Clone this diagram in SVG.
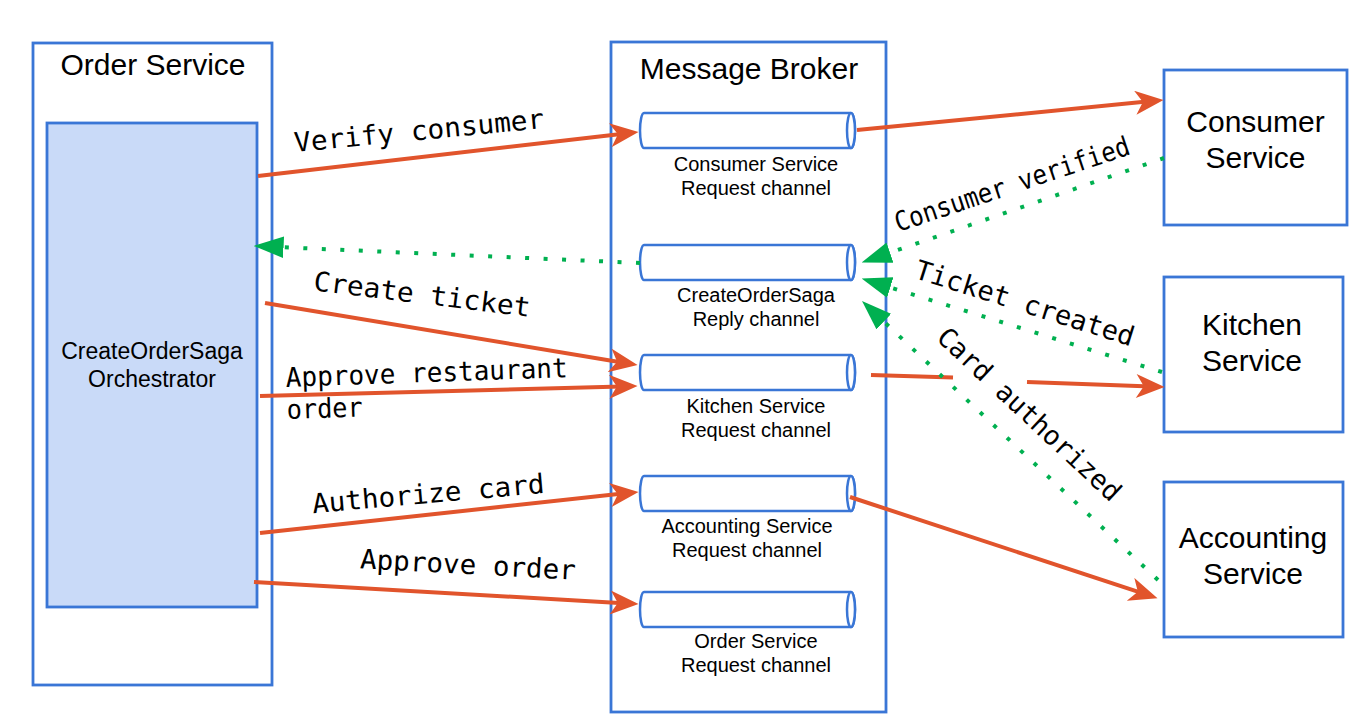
<svg xmlns="http://www.w3.org/2000/svg" width="1365" height="723" viewBox="0 0 1365 723">
<style>
.box{fill:#ffffff;stroke:#3a76d6;stroke-width:2.8}
.inner{fill:#c9daf8;stroke:#3a76d6;stroke-width:2.8}
.cyl{fill:#ffffff;stroke:#3a76d6;stroke-width:2.5}
.title{font-family:"Liberation Sans",Arial,sans-serif;font-size:30px;fill:#000;text-anchor:middle}
.ch{font-family:"Liberation Sans",Arial,sans-serif;font-size:20px;fill:#000;text-anchor:middle}
.orch{font-family:"Liberation Sans",Arial,sans-serif;font-size:23px;fill:#000;text-anchor:middle}
.lbl{font-family:"DejaVu Sans Mono","Liberation Mono",monospace;font-size:27px;fill:#000;text-anchor:middle}
.req{fill:none;stroke:#e1542c;stroke-width:4}
.rep{fill:none;stroke:#00b050;stroke-width:4;stroke-dasharray:4 14.5}
</style>
<defs>
<marker id="ra" markerUnits="userSpaceOnUse" markerWidth="30" markerHeight="24" viewBox="0 0 26 22" refX="20" refY="11" orient="auto">
<path d="M0,0 L26,11 L0,22 L7,11 Z" fill="#e1542c"/>
</marker>
<marker id="ga" markerUnits="userSpaceOnUse" markerWidth="30" markerHeight="22" viewBox="0 0 28 20" refX="8" refY="10" orient="auto">
<path d="M0,0 L28,10 L0,20 Z" fill="#00b050"/>
</marker>
</defs>

<g id="order-service">
<rect class="box" x="33" y="43" width="239" height="642"/>
<text class="title" x="153" y="75">Order Service</text>
</g>
<g id="orchestrator">
<rect class="inner" x="47" y="123" width="210" height="484"/>
<text class="orch" x="152" y="359">CreateOrderSaga</text>
<text class="orch" x="152" y="387">Orchestrator</text>
</g>

<g id="message-broker">
<rect class="box" x="611" y="42" width="275" height="670"/>
<text class="title" x="749" y="79">Message Broker</text>
</g>

<g id="consumer-channel">
<path class="cyl" d="M644,113 H851 A4,17.5 0 0 1 851,148 H644 A4,17.5 0 0 1 644,113 Z"/>
<ellipse class="cyl" cx="851" cy="130.5" rx="4" ry="17.5"/>
<text class="ch" x="756" y="171">Consumer Service</text>
<text class="ch" x="756" y="195">Request channel</text>
</g>
<g id="reply-channel">
<path class="cyl" d="M644,245 H851 A4,17.5 0 0 1 851,280 H644 A4,17.5 0 0 1 644,245 Z"/>
<ellipse class="cyl" cx="851" cy="262.5" rx="4" ry="17.5"/>
<text class="ch" x="756" y="302">CreateOrderSaga</text>
<text class="ch" x="756" y="326">Reply channel</text>
</g>
<g id="kitchen-channel">
<path class="cyl" d="M644,355 H851 A4,17.5 0 0 1 851,390 H644 A4,17.5 0 0 1 644,355 Z"/>
<ellipse class="cyl" cx="851" cy="372.5" rx="4" ry="17.5"/>
<text class="ch" x="756" y="413">Kitchen Service</text>
<text class="ch" x="756" y="437">Request channel</text>
</g>
<g id="accounting-channel">
<path class="cyl" d="M644,476 H851 A4,17.5 0 0 1 851,511 H644 A4,17.5 0 0 1 644,476 Z"/>
<ellipse class="cyl" cx="851" cy="493.5" rx="4" ry="17.5"/>
<text class="ch" x="747" y="533">Accounting Service</text>
<text class="ch" x="747" y="557">Request channel</text>
</g>
<g id="order-channel">
<path class="cyl" d="M644,592 H851 A4,17.5 0 0 1 851,627 H644 A4,17.5 0 0 1 644,592 Z"/>
<ellipse class="cyl" cx="851" cy="609.5" rx="4" ry="17.5"/>
<text class="ch" x="756" y="648">Order Service</text>
<text class="ch" x="756" y="672">Request channel</text>
</g>

<g id="consumer-service">
<rect class="box" x="1164" y="70" width="183" height="155"/>
<text class="title" x="1255.5" y="132">Consumer</text>
<text class="title" x="1255.5" y="168">Service</text>
</g>
<g id="kitchen-service">
<rect class="box" x="1164" y="277" width="179" height="155"/>
<text class="title" x="1252" y="335">Kitchen</text>
<text class="title" x="1252" y="371">Service</text>
</g>
<g id="accounting-service">
<rect class="box" x="1164" y="482" width="179" height="155"/>
<text class="title" x="1253" y="548">Accounting</text>
<text class="title" x="1253" y="584">Service</text>
</g>

<g id="connectors">
<line class="req" x1="258" y1="176" x2="632" y2="132.7" marker-end="url(#ra)"/>
<line class="req" x1="857" y1="130" x2="1157" y2="100.6" marker-end="url(#ra)"/>
<line class="req" x1="265" y1="303" x2="631.1" y2="364" marker-end="url(#ra)"/>
<line class="req" x1="260" y1="396" x2="631" y2="386.2" marker-end="url(#ra)"/>
<line class="req" x1="871" y1="375" x2="953" y2="377.5"/>
<line class="req" x1="1027" y1="382" x2="1158" y2="386.8" marker-end="url(#ra)"/>
<line class="req" x1="260" y1="533" x2="632" y2="492.6" marker-end="url(#ra)"/>
<line class="req" x1="254" y1="582" x2="632" y2="603.7" marker-end="url(#ra)"/>
<line class="req" x1="850" y1="497" x2="1151.3" y2="596.1" marker-end="url(#ra)"/>

<line class="rep" x1="640" y1="263" x2="275" y2="246.9" marker-end="url(#ga)"/>
<line class="rep" x1="1164" y1="158" x2="881.9" y2="255.5" marker-end="url(#ga)"/>
<line class="rep" x1="1162" y1="372" x2="882.1" y2="284.9" marker-end="url(#ga)"/>
<line class="rep" x1="1158" y1="580" x2="877.6" y2="315.7" marker-end="url(#ga)"/>

<text class="lbl" transform="translate(420,140) rotate(-5.5)" textLength="251" lengthAdjust="spacingAndGlyphs">Verify consumer</text>
<text class="lbl" transform="translate(421,303.5) rotate(7)" textLength="218" lengthAdjust="spacingAndGlyphs">Create ticket</text>
<text class="lbl" transform="translate(427,382) rotate(-2)" textLength="282" lengthAdjust="spacingAndGlyphs">Approve restaurant</text>
<text class="lbl" transform="translate(287,419) rotate(-2)" style="text-anchor:start" textLength="76" lengthAdjust="spacingAndGlyphs">order</text>
<text class="lbl" transform="translate(429,503) rotate(-5)" textLength="233" lengthAdjust="spacingAndGlyphs">Authorize card</text>
<text class="lbl" transform="translate(467.5,574) rotate(3)" textLength="216" lengthAdjust="spacingAndGlyphs">Approve order</text>
<text class="lbl" transform="translate(1015,193) rotate(-18.5)" textLength="246" lengthAdjust="spacingAndGlyphs">Consumer verified</text>
<text class="lbl" transform="translate(1022,312) rotate(17.5)" textLength="228" lengthAdjust="spacingAndGlyphs">Ticket created</text>
<text class="lbl" transform="translate(1023,421) rotate(43)" textLength="240" lengthAdjust="spacingAndGlyphs">Card authorized</text>
</g>
</svg>
